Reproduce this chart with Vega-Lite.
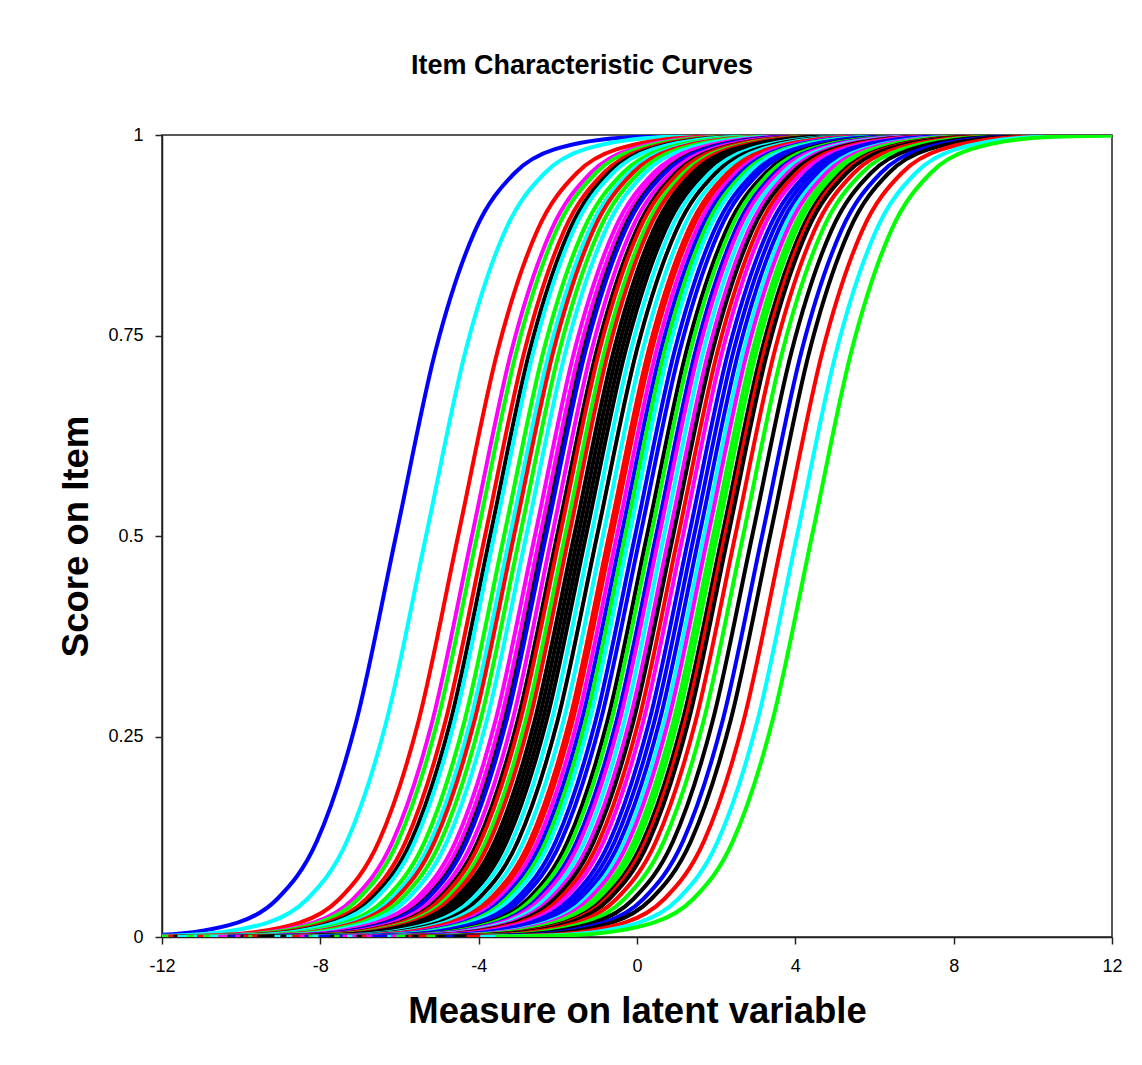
{
"$schema":"https://vega.github.io/schema/vega-lite/v6.json",
"autosize":"none",
"width":950,"height":802,
"padding":{"left":162,"top":135,"right":30,"bottom":128},
"background":"white",
"title":{"text":"Item Characteristic Curves","fontSize":27,"fontWeight":"bold","font":"Liberation Sans","color":"black","anchor":"middle","frame":"group","dx":-55,"baseline":"alphabetic","offset":25},
"config":{"view":{"stroke":"#222","strokeWidth":1.5}},
"data":{"values":[
{"c":1,"x":-14.09,"y":0.0003},{"c":1,"x":-12.09,"y":0.0025},{"c":1,"x":-10.09,"y":0.018},{"c":1,"x":-9.09,"y":0.0474},{"c":1,"x":-8.09,"y":0.1192},{"c":1,"x":-7.09,"y":0.2689},{"c":1,"x":-6.09,"y":0.5},{"c":1,"x":-5.09,"y":0.7311},{"c":1,"x":-4.09,"y":0.8808},{"c":1,"x":-3.09,"y":0.9526},{"c":1,"x":-2.09,"y":0.982},{"c":1,"x":-0.09,"y":0.9975},{"c":1,"x":1.91,"y":0.9997},
{"c":2,"x":-13.33,"y":0.0003},{"c":2,"x":-11.33,"y":0.0025},{"c":2,"x":-9.33,"y":0.018},{"c":2,"x":-8.33,"y":0.0474},{"c":2,"x":-7.33,"y":0.1192},{"c":2,"x":-6.33,"y":0.2689},{"c":2,"x":-5.33,"y":0.5},{"c":2,"x":-4.33,"y":0.7311},{"c":2,"x":-3.33,"y":0.8808},{"c":2,"x":-2.33,"y":0.9526},{"c":2,"x":-1.33,"y":0.982},{"c":2,"x":0.67,"y":0.9975},{"c":2,"x":2.67,"y":0.9997},
{"c":3,"x":-12.52,"y":0.0003},{"c":3,"x":-10.52,"y":0.0025},{"c":3,"x":-8.52,"y":0.018},{"c":3,"x":-7.52,"y":0.0474},{"c":3,"x":-6.52,"y":0.1192},{"c":3,"x":-5.52,"y":0.2689},{"c":3,"x":-4.52,"y":0.5},{"c":3,"x":-3.52,"y":0.7311},{"c":3,"x":-2.52,"y":0.8808},{"c":3,"x":-1.52,"y":0.9526},{"c":3,"x":-0.52,"y":0.982},{"c":3,"x":1.48,"y":0.9975},{"c":3,"x":3.48,"y":0.9997},
{"c":4,"x":-12.17,"y":0.0003},{"c":4,"x":-10.17,"y":0.0025},{"c":4,"x":-8.17,"y":0.018},{"c":4,"x":-7.17,"y":0.0474},{"c":4,"x":-6.17,"y":0.1192},{"c":4,"x":-5.17,"y":0.2689},{"c":4,"x":-4.17,"y":0.5},{"c":4,"x":-3.17,"y":0.7311},{"c":4,"x":-2.17,"y":0.8808},{"c":4,"x":-1.17,"y":0.9526},{"c":4,"x":-0.17,"y":0.982},{"c":4,"x":1.83,"y":0.9975},{"c":4,"x":3.83,"y":0.9997},
{"c":5,"x":-12.04,"y":0.0003},{"c":5,"x":-10.04,"y":0.0025},{"c":5,"x":-8.04,"y":0.018},{"c":5,"x":-7.04,"y":0.0474},{"c":5,"x":-6.04,"y":0.1192},{"c":5,"x":-5.04,"y":0.2689},{"c":5,"x":-4.04,"y":0.5},{"c":5,"x":-3.04,"y":0.7311},{"c":5,"x":-2.04,"y":0.8808},{"c":5,"x":-1.04,"y":0.9526},{"c":5,"x":-0.04,"y":0.982},{"c":5,"x":1.96,"y":0.9975},{"c":5,"x":3.96,"y":0.9997},
{"c":6,"x":-11.84,"y":0.0003},{"c":6,"x":-9.84,"y":0.0025},{"c":6,"x":-7.84,"y":0.018},{"c":6,"x":-6.84,"y":0.0474},{"c":6,"x":-5.84,"y":0.1192},{"c":6,"x":-4.84,"y":0.2689},{"c":6,"x":-3.84,"y":0.5},{"c":6,"x":-2.84,"y":0.7311},{"c":6,"x":-1.84,"y":0.8808},{"c":6,"x":-0.84,"y":0.9526},{"c":6,"x":0.16,"y":0.982},{"c":6,"x":2.16,"y":0.9975},{"c":6,"x":4.16,"y":0.9997},
{"c":7,"x":-11.71,"y":0.0003},{"c":7,"x":-9.71,"y":0.0025},{"c":7,"x":-7.71,"y":0.018},{"c":7,"x":-6.71,"y":0.0474},{"c":7,"x":-5.71,"y":0.1192},{"c":7,"x":-4.71,"y":0.2689},{"c":7,"x":-3.71,"y":0.5},{"c":7,"x":-2.71,"y":0.7311},{"c":7,"x":-1.71,"y":0.8808},{"c":7,"x":-0.71,"y":0.9526},{"c":7,"x":0.29,"y":0.982},{"c":7,"x":2.29,"y":0.9975},{"c":7,"x":4.29,"y":0.9997},
{"c":8,"x":-11.61,"y":0.0003},{"c":8,"x":-9.61,"y":0.0025},{"c":8,"x":-7.61,"y":0.018},{"c":8,"x":-6.61,"y":0.0474},{"c":8,"x":-5.61,"y":0.1192},{"c":8,"x":-4.61,"y":0.2689},{"c":8,"x":-3.61,"y":0.5},{"c":8,"x":-2.61,"y":0.7311},{"c":8,"x":-1.61,"y":0.8808},{"c":8,"x":-0.61,"y":0.9526},{"c":8,"x":0.39,"y":0.982},{"c":8,"x":2.39,"y":0.9975},{"c":8,"x":4.39,"y":0.9997},
{"c":9,"x":-11.36,"y":0.0003},{"c":9,"x":-9.36,"y":0.0025},{"c":9,"x":-7.36,"y":0.018},{"c":9,"x":-6.36,"y":0.0474},{"c":9,"x":-5.36,"y":0.1192},{"c":9,"x":-4.36,"y":0.2689},{"c":9,"x":-3.36,"y":0.5},{"c":9,"x":-2.36,"y":0.7311},{"c":9,"x":-1.36,"y":0.8808},{"c":9,"x":-0.36,"y":0.9526},{"c":9,"x":0.64,"y":0.982},{"c":9,"x":2.64,"y":0.9975},{"c":9,"x":4.64,"y":0.9997},
{"c":10,"x":-11.21,"y":0.0003},{"c":10,"x":-9.21,"y":0.0025},{"c":10,"x":-7.21,"y":0.018},{"c":10,"x":-6.21,"y":0.0474},{"c":10,"x":-5.21,"y":0.1192},{"c":10,"x":-4.21,"y":0.2689},{"c":10,"x":-3.21,"y":0.5},{"c":10,"x":-2.21,"y":0.7311},{"c":10,"x":-1.21,"y":0.8808},{"c":10,"x":-0.21,"y":0.9526},{"c":10,"x":0.79,"y":0.982},{"c":10,"x":2.79,"y":0.9975},{"c":10,"x":4.79,"y":0.9997},
{"c":11,"x":-11.11,"y":0.0003},{"c":11,"x":-9.11,"y":0.0025},{"c":11,"x":-7.11,"y":0.018},{"c":11,"x":-6.11,"y":0.0474},{"c":11,"x":-5.11,"y":0.1192},{"c":11,"x":-4.11,"y":0.2689},{"c":11,"x":-3.11,"y":0.5},{"c":11,"x":-2.11,"y":0.7311},{"c":11,"x":-1.11,"y":0.8808},{"c":11,"x":-0.11,"y":0.9526},{"c":11,"x":0.89,"y":0.982},{"c":11,"x":2.89,"y":0.9975},{"c":11,"x":4.89,"y":0.9997},
{"c":12,"x":-10.96,"y":0.0003},{"c":12,"x":-8.96,"y":0.0025},{"c":12,"x":-6.96,"y":0.018},{"c":12,"x":-5.96,"y":0.0474},{"c":12,"x":-4.96,"y":0.1192},{"c":12,"x":-3.96,"y":0.2689},{"c":12,"x":-2.96,"y":0.5},{"c":12,"x":-1.96,"y":0.7311},{"c":12,"x":-0.96,"y":0.8808},{"c":12,"x":0.04,"y":0.9526},{"c":12,"x":1.04,"y":0.982},{"c":12,"x":3.04,"y":0.9975},{"c":12,"x":5.04,"y":0.9997},
{"c":13,"x":-10.8,"y":0.0003},{"c":13,"x":-8.8,"y":0.0025},{"c":13,"x":-6.8,"y":0.018},{"c":13,"x":-5.8,"y":0.0474},{"c":13,"x":-4.8,"y":0.1192},{"c":13,"x":-3.8,"y":0.2689},{"c":13,"x":-2.8,"y":0.5},{"c":13,"x":-1.8,"y":0.7311},{"c":13,"x":-0.8,"y":0.8808},{"c":13,"x":0.2,"y":0.9526},{"c":13,"x":1.2,"y":0.982},{"c":13,"x":3.2,"y":0.9975},{"c":13,"x":5.2,"y":0.9997},
{"c":14,"x":-10.58,"y":0.0003},{"c":14,"x":-8.58,"y":0.0025},{"c":14,"x":-6.58,"y":0.018},{"c":14,"x":-5.58,"y":0.0474},{"c":14,"x":-4.58,"y":0.1192},{"c":14,"x":-3.58,"y":0.2689},{"c":14,"x":-2.58,"y":0.5},{"c":14,"x":-1.58,"y":0.7311},{"c":14,"x":-0.58,"y":0.8808},{"c":14,"x":0.42,"y":0.9526},{"c":14,"x":1.42,"y":0.982},{"c":14,"x":3.42,"y":0.9975},{"c":14,"x":5.42,"y":0.9997},
{"c":15,"x":-10.45,"y":0.0003},{"c":15,"x":-8.45,"y":0.0025},{"c":15,"x":-6.45,"y":0.018},{"c":15,"x":-5.45,"y":0.0474},{"c":15,"x":-4.45,"y":0.1192},{"c":15,"x":-3.45,"y":0.2689},{"c":15,"x":-2.45,"y":0.5},{"c":15,"x":-1.45,"y":0.7311},{"c":15,"x":-0.45,"y":0.8808},{"c":15,"x":0.55,"y":0.9526},{"c":15,"x":1.55,"y":0.982},{"c":15,"x":3.55,"y":0.9975},{"c":15,"x":5.55,"y":0.9997},
{"c":16,"x":-10.35,"y":0.0003},{"c":16,"x":-8.35,"y":0.0025},{"c":16,"x":-6.35,"y":0.018},{"c":16,"x":-5.35,"y":0.0474},{"c":16,"x":-4.35,"y":0.1192},{"c":16,"x":-3.35,"y":0.2689},{"c":16,"x":-2.35,"y":0.5},{"c":16,"x":-1.35,"y":0.7311},{"c":16,"x":-0.35,"y":0.8808},{"c":16,"x":0.65,"y":0.9526},{"c":16,"x":1.65,"y":0.982},{"c":16,"x":3.65,"y":0.9975},{"c":16,"x":5.65,"y":0.9997},
{"c":17,"x":-10.3,"y":0.0003},{"c":17,"x":-8.3,"y":0.0025},{"c":17,"x":-6.3,"y":0.018},{"c":17,"x":-5.3,"y":0.0474},{"c":17,"x":-4.3,"y":0.1192},{"c":17,"x":-3.3,"y":0.2689},{"c":17,"x":-2.3,"y":0.5},{"c":17,"x":-1.3,"y":0.7311},{"c":17,"x":-0.3,"y":0.8808},{"c":17,"x":0.7,"y":0.9526},{"c":17,"x":1.7,"y":0.982},{"c":17,"x":3.7,"y":0.9975},{"c":17,"x":5.7,"y":0.9997},
{"c":18,"x":-10.15,"y":0.0003},{"c":18,"x":-8.15,"y":0.0025},{"c":18,"x":-6.15,"y":0.018},{"c":18,"x":-5.15,"y":0.0474},{"c":18,"x":-4.15,"y":0.1192},{"c":18,"x":-3.15,"y":0.2689},{"c":18,"x":-2.15,"y":0.5},{"c":18,"x":-1.15,"y":0.7311},{"c":18,"x":-0.15,"y":0.8808},{"c":18,"x":0.85,"y":0.9526},{"c":18,"x":1.85,"y":0.982},{"c":18,"x":3.85,"y":0.9975},{"c":18,"x":5.85,"y":0.9997},
{"c":19,"x":-10.02,"y":0.0003},{"c":19,"x":-8.02,"y":0.0025},{"c":19,"x":-6.02,"y":0.018},{"c":19,"x":-5.02,"y":0.0474},{"c":19,"x":-4.02,"y":0.1192},{"c":19,"x":-3.02,"y":0.2689},{"c":19,"x":-2.02,"y":0.5},{"c":19,"x":-1.02,"y":0.7311},{"c":19,"x":-0.02,"y":0.8808},{"c":19,"x":0.98,"y":0.9526},{"c":19,"x":1.98,"y":0.982},{"c":19,"x":3.98,"y":0.9975},{"c":19,"x":5.98,"y":0.9997},
{"c":20,"x":-9.95,"y":0.0003},{"c":20,"x":-7.95,"y":0.0025},{"c":20,"x":-5.95,"y":0.018},{"c":20,"x":-4.95,"y":0.0474},{"c":20,"x":-3.95,"y":0.1192},{"c":20,"x":-2.95,"y":0.2689},{"c":20,"x":-1.95,"y":0.5},{"c":20,"x":-0.95,"y":0.7311},{"c":20,"x":0.05,"y":0.8808},{"c":20,"x":1.05,"y":0.9526},{"c":20,"x":2.05,"y":0.982},{"c":20,"x":4.05,"y":0.9975},{"c":20,"x":6.05,"y":0.9997},
{"c":21,"x":-9.82,"y":0.0003},{"c":21,"x":-7.82,"y":0.0025},{"c":21,"x":-5.82,"y":0.018},{"c":21,"x":-4.82,"y":0.0474},{"c":21,"x":-3.82,"y":0.1192},{"c":21,"x":-2.82,"y":0.2689},{"c":21,"x":-1.82,"y":0.5},{"c":21,"x":-0.82,"y":0.7311},{"c":21,"x":0.18,"y":0.8808},{"c":21,"x":1.18,"y":0.9526},{"c":21,"x":2.18,"y":0.982},{"c":21,"x":4.18,"y":0.9975},{"c":21,"x":6.18,"y":0.9997},
{"c":22,"x":-9.72,"y":0.0003},{"c":22,"x":-7.72,"y":0.0025},{"c":22,"x":-5.72,"y":0.018},{"c":22,"x":-4.72,"y":0.0474},{"c":22,"x":-3.72,"y":0.1192},{"c":22,"x":-2.72,"y":0.2689},{"c":22,"x":-1.72,"y":0.5},{"c":22,"x":-0.72,"y":0.7311},{"c":22,"x":0.28,"y":0.8808},{"c":22,"x":1.28,"y":0.9526},{"c":22,"x":2.28,"y":0.982},{"c":22,"x":4.28,"y":0.9975},{"c":22,"x":6.28,"y":0.9997},
{"c":23,"x":-9.59,"y":0.0003},{"c":23,"x":-7.59,"y":0.0025},{"c":23,"x":-5.59,"y":0.018},{"c":23,"x":-4.59,"y":0.0474},{"c":23,"x":-3.59,"y":0.1192},{"c":23,"x":-2.59,"y":0.2689},{"c":23,"x":-1.59,"y":0.5},{"c":23,"x":-0.59,"y":0.7311},{"c":23,"x":0.41,"y":0.8808},{"c":23,"x":1.41,"y":0.9526},{"c":23,"x":2.41,"y":0.982},{"c":23,"x":4.41,"y":0.9975},{"c":23,"x":6.41,"y":0.9997},
{"c":24,"x":-9.49,"y":0.0003},{"c":24,"x":-7.49,"y":0.0025},{"c":24,"x":-5.49,"y":0.018},{"c":24,"x":-4.49,"y":0.0474},{"c":24,"x":-3.49,"y":0.1192},{"c":24,"x":-2.49,"y":0.2689},{"c":24,"x":-1.49,"y":0.5},{"c":24,"x":-0.49,"y":0.7311},{"c":24,"x":0.51,"y":0.8808},{"c":24,"x":1.51,"y":0.9526},{"c":24,"x":2.51,"y":0.982},{"c":24,"x":4.51,"y":0.9975},{"c":24,"x":6.51,"y":0.9997},
{"c":25,"x":-9.39,"y":0.0003},{"c":25,"x":-7.39,"y":0.0025},{"c":25,"x":-5.39,"y":0.018},{"c":25,"x":-4.39,"y":0.0474},{"c":25,"x":-3.39,"y":0.1192},{"c":25,"x":-2.39,"y":0.2689},{"c":25,"x":-1.39,"y":0.5},{"c":25,"x":-0.39,"y":0.7311},{"c":25,"x":0.61,"y":0.8808},{"c":25,"x":1.61,"y":0.9526},{"c":25,"x":2.61,"y":0.982},{"c":25,"x":4.61,"y":0.9975},{"c":25,"x":6.61,"y":0.9997},
{"c":26,"x":-9.29,"y":0.0003},{"c":26,"x":-7.29,"y":0.0025},{"c":26,"x":-5.29,"y":0.018},{"c":26,"x":-4.29,"y":0.0474},{"c":26,"x":-3.29,"y":0.1192},{"c":26,"x":-2.29,"y":0.2689},{"c":26,"x":-1.29,"y":0.5},{"c":26,"x":-0.29,"y":0.7311},{"c":26,"x":0.71,"y":0.8808},{"c":26,"x":1.71,"y":0.9526},{"c":26,"x":2.71,"y":0.982},{"c":26,"x":4.71,"y":0.9975},{"c":26,"x":6.71,"y":0.9997},
{"c":27,"x":-9.16,"y":0.0003},{"c":27,"x":-7.16,"y":0.0025},{"c":27,"x":-5.16,"y":0.018},{"c":27,"x":-4.16,"y":0.0474},{"c":27,"x":-3.16,"y":0.1192},{"c":27,"x":-2.16,"y":0.2689},{"c":27,"x":-1.16,"y":0.5},{"c":27,"x":-0.16,"y":0.7311},{"c":27,"x":0.84,"y":0.8808},{"c":27,"x":1.84,"y":0.9526},{"c":27,"x":2.84,"y":0.982},{"c":27,"x":4.84,"y":0.9975},{"c":27,"x":6.84,"y":0.9997},
{"c":28,"x":-9.01,"y":0.0003},{"c":28,"x":-7.01,"y":0.0025},{"c":28,"x":-5.01,"y":0.018},{"c":28,"x":-4.01,"y":0.0474},{"c":28,"x":-3.01,"y":0.1192},{"c":28,"x":-2.01,"y":0.2689},{"c":28,"x":-1.01,"y":0.5},{"c":28,"x":-0.01,"y":0.7311},{"c":28,"x":0.99,"y":0.8808},{"c":28,"x":1.99,"y":0.9526},{"c":28,"x":2.99,"y":0.982},{"c":28,"x":4.99,"y":0.9975},{"c":28,"x":6.99,"y":0.9997},
{"c":29,"x":-8.86,"y":0.0003},{"c":29,"x":-6.86,"y":0.0025},{"c":29,"x":-4.86,"y":0.018},{"c":29,"x":-3.86,"y":0.0474},{"c":29,"x":-2.86,"y":0.1192},{"c":29,"x":-1.86,"y":0.2689},{"c":29,"x":-0.86,"y":0.5},{"c":29,"x":0.14,"y":0.7311},{"c":29,"x":1.14,"y":0.8808},{"c":29,"x":2.14,"y":0.9526},{"c":29,"x":3.14,"y":0.982},{"c":29,"x":5.14,"y":0.9975},{"c":29,"x":7.14,"y":0.9997},
{"c":30,"x":-8.71,"y":0.0003},{"c":30,"x":-6.71,"y":0.0025},{"c":30,"x":-4.71,"y":0.018},{"c":30,"x":-3.71,"y":0.0474},{"c":30,"x":-2.71,"y":0.1192},{"c":30,"x":-1.71,"y":0.2689},{"c":30,"x":-0.71,"y":0.5},{"c":30,"x":0.29,"y":0.7311},{"c":30,"x":1.29,"y":0.8808},{"c":30,"x":2.29,"y":0.9526},{"c":30,"x":3.29,"y":0.982},{"c":30,"x":5.29,"y":0.9975},{"c":30,"x":7.29,"y":0.9997},
{"c":31,"x":-8.63,"y":0.0003},{"c":31,"x":-6.63,"y":0.0025},{"c":31,"x":-4.63,"y":0.018},{"c":31,"x":-3.63,"y":0.0474},{"c":31,"x":-2.63,"y":0.1192},{"c":31,"x":-1.63,"y":0.2689},{"c":31,"x":-0.63,"y":0.5},{"c":31,"x":0.37,"y":0.7311},{"c":31,"x":1.37,"y":0.8808},{"c":31,"x":2.37,"y":0.9526},{"c":31,"x":3.37,"y":0.982},{"c":31,"x":5.37,"y":0.9975},{"c":31,"x":7.37,"y":0.9997},
{"c":32,"x":-8.51,"y":0.0003},{"c":32,"x":-6.51,"y":0.0025},{"c":32,"x":-4.51,"y":0.018},{"c":32,"x":-3.51,"y":0.0474},{"c":32,"x":-2.51,"y":0.1192},{"c":32,"x":-1.51,"y":0.2689},{"c":32,"x":-0.51,"y":0.5},{"c":32,"x":0.49,"y":0.7311},{"c":32,"x":1.49,"y":0.8808},{"c":32,"x":2.49,"y":0.9526},{"c":32,"x":3.49,"y":0.982},{"c":32,"x":5.49,"y":0.9975},{"c":32,"x":7.49,"y":0.9997},
{"c":33,"x":-8.4,"y":0.0003},{"c":33,"x":-6.4,"y":0.0025},{"c":33,"x":-4.4,"y":0.018},{"c":33,"x":-3.4,"y":0.0474},{"c":33,"x":-2.4,"y":0.1192},{"c":33,"x":-1.4,"y":0.2689},{"c":33,"x":-0.4,"y":0.5},{"c":33,"x":0.6,"y":0.7311},{"c":33,"x":1.6,"y":0.8808},{"c":33,"x":2.6,"y":0.9526},{"c":33,"x":3.6,"y":0.982},{"c":33,"x":5.6,"y":0.9975},{"c":33,"x":7.6,"y":0.9997},
{"c":34,"x":-8.3,"y":0.0003},{"c":34,"x":-6.3,"y":0.0025},{"c":34,"x":-4.3,"y":0.018},{"c":34,"x":-3.3,"y":0.0474},{"c":34,"x":-2.3,"y":0.1192},{"c":34,"x":-1.3,"y":0.2689},{"c":34,"x":-0.3,"y":0.5},{"c":34,"x":0.7,"y":0.7311},{"c":34,"x":1.7,"y":0.8808},{"c":34,"x":2.7,"y":0.9526},{"c":34,"x":3.7,"y":0.982},{"c":34,"x":5.7,"y":0.9975},{"c":34,"x":7.7,"y":0.9997},
{"c":35,"x":-8.2,"y":0.0003},{"c":35,"x":-6.2,"y":0.0025},{"c":35,"x":-4.2,"y":0.018},{"c":35,"x":-3.2,"y":0.0474},{"c":35,"x":-2.2,"y":0.1192},{"c":35,"x":-1.2,"y":0.2689},{"c":35,"x":-0.2,"y":0.5},{"c":35,"x":0.8,"y":0.7311},{"c":35,"x":1.8,"y":0.8808},{"c":35,"x":2.8,"y":0.9526},{"c":35,"x":3.8,"y":0.982},{"c":35,"x":5.8,"y":0.9975},{"c":35,"x":7.8,"y":0.9997},
{"c":36,"x":-8.05,"y":0.0003},{"c":36,"x":-6.05,"y":0.0025},{"c":36,"x":-4.05,"y":0.018},{"c":36,"x":-3.05,"y":0.0474},{"c":36,"x":-2.05,"y":0.1192},{"c":36,"x":-1.05,"y":0.2689},{"c":36,"x":-0.05,"y":0.5},{"c":36,"x":0.95,"y":0.7311},{"c":36,"x":1.95,"y":0.8808},{"c":36,"x":2.95,"y":0.9526},{"c":36,"x":3.95,"y":0.982},{"c":36,"x":5.95,"y":0.9975},{"c":36,"x":7.95,"y":0.9997},
{"c":37,"x":-7.92,"y":0.0003},{"c":37,"x":-5.92,"y":0.0025},{"c":37,"x":-3.92,"y":0.018},{"c":37,"x":-2.92,"y":0.0474},{"c":37,"x":-1.92,"y":0.1192},{"c":37,"x":-0.92,"y":0.2689},{"c":37,"x":0.08,"y":0.5},{"c":37,"x":1.08,"y":0.7311},{"c":37,"x":2.08,"y":0.8808},{"c":37,"x":3.08,"y":0.9526},{"c":37,"x":4.08,"y":0.982},{"c":37,"x":6.08,"y":0.9975},{"c":37,"x":8.08,"y":0.9997},
{"c":38,"x":-7.75,"y":0.0003},{"c":38,"x":-5.75,"y":0.0025},{"c":38,"x":-3.75,"y":0.018},{"c":38,"x":-2.75,"y":0.0474},{"c":38,"x":-1.75,"y":0.1192},{"c":38,"x":-0.75,"y":0.2689},{"c":38,"x":0.25,"y":0.5},{"c":38,"x":1.25,"y":0.7311},{"c":38,"x":2.25,"y":0.8808},{"c":38,"x":3.25,"y":0.9526},{"c":38,"x":4.25,"y":0.982},{"c":38,"x":6.25,"y":0.9975},{"c":38,"x":8.25,"y":0.9997},
{"c":39,"x":-7.65,"y":0.0003},{"c":39,"x":-5.65,"y":0.0025},{"c":39,"x":-3.65,"y":0.018},{"c":39,"x":-2.65,"y":0.0474},{"c":39,"x":-1.65,"y":0.1192},{"c":39,"x":-0.65,"y":0.2689},{"c":39,"x":0.35,"y":0.5},{"c":39,"x":1.35,"y":0.7311},{"c":39,"x":2.35,"y":0.8808},{"c":39,"x":3.35,"y":0.9526},{"c":39,"x":4.35,"y":0.982},{"c":39,"x":6.35,"y":0.9975},{"c":39,"x":8.35,"y":0.9997},
{"c":40,"x":-7.52,"y":0.0003},{"c":40,"x":-5.52,"y":0.0025},{"c":40,"x":-3.52,"y":0.018},{"c":40,"x":-2.52,"y":0.0474},{"c":40,"x":-1.52,"y":0.1192},{"c":40,"x":-0.52,"y":0.2689},{"c":40,"x":0.48,"y":0.5},{"c":40,"x":1.48,"y":0.7311},{"c":40,"x":2.48,"y":0.8808},{"c":40,"x":3.48,"y":0.9526},{"c":40,"x":4.48,"y":0.982},{"c":40,"x":6.48,"y":0.9975},{"c":40,"x":8.48,"y":0.9997},
{"c":41,"x":-7.44,"y":0.0003},{"c":41,"x":-5.44,"y":0.0025},{"c":41,"x":-3.44,"y":0.018},{"c":41,"x":-2.44,"y":0.0474},{"c":41,"x":-1.44,"y":0.1192},{"c":41,"x":-0.44,"y":0.2689},{"c":41,"x":0.56,"y":0.5},{"c":41,"x":1.56,"y":0.7311},{"c":41,"x":2.56,"y":0.8808},{"c":41,"x":3.56,"y":0.9526},{"c":41,"x":4.56,"y":0.982},{"c":41,"x":6.56,"y":0.9975},{"c":41,"x":8.56,"y":0.9997},
{"c":42,"x":-7.32,"y":0.0003},{"c":42,"x":-5.32,"y":0.0025},{"c":42,"x":-3.32,"y":0.018},{"c":42,"x":-2.32,"y":0.0474},{"c":42,"x":-1.32,"y":0.1192},{"c":42,"x":-0.32,"y":0.2689},{"c":42,"x":0.68,"y":0.5},{"c":42,"x":1.68,"y":0.7311},{"c":42,"x":2.68,"y":0.8808},{"c":42,"x":3.68,"y":0.9526},{"c":42,"x":4.68,"y":0.982},{"c":42,"x":6.68,"y":0.9975},{"c":42,"x":8.68,"y":0.9997},
{"c":43,"x":-7.19,"y":0.0003},{"c":43,"x":-5.19,"y":0.0025},{"c":43,"x":-3.19,"y":0.018},{"c":43,"x":-2.19,"y":0.0474},{"c":43,"x":-1.19,"y":0.1192},{"c":43,"x":-0.19,"y":0.2689},{"c":43,"x":0.81,"y":0.5},{"c":43,"x":1.81,"y":0.7311},{"c":43,"x":2.81,"y":0.8808},{"c":43,"x":3.81,"y":0.9526},{"c":43,"x":4.81,"y":0.982},{"c":43,"x":6.81,"y":0.9975},{"c":43,"x":8.81,"y":0.9997},
{"c":44,"x":-7.09,"y":0.0003},{"c":44,"x":-5.09,"y":0.0025},{"c":44,"x":-3.09,"y":0.018},{"c":44,"x":-2.09,"y":0.0474},{"c":44,"x":-1.09,"y":0.1192},{"c":44,"x":-0.09,"y":0.2689},{"c":44,"x":0.91,"y":0.5},{"c":44,"x":1.91,"y":0.7311},{"c":44,"x":2.91,"y":0.8808},{"c":44,"x":3.91,"y":0.9526},{"c":44,"x":4.91,"y":0.982},{"c":44,"x":6.91,"y":0.9975},{"c":44,"x":8.91,"y":0.9997},
{"c":45,"x":-6.96,"y":0.0003},{"c":45,"x":-4.96,"y":0.0025},{"c":45,"x":-2.96,"y":0.018},{"c":45,"x":-1.96,"y":0.0474},{"c":45,"x":-0.96,"y":0.1192},{"c":45,"x":0.04,"y":0.2689},{"c":45,"x":1.04,"y":0.5},{"c":45,"x":2.04,"y":0.7311},{"c":45,"x":3.04,"y":0.8808},{"c":45,"x":4.04,"y":0.9526},{"c":45,"x":5.04,"y":0.982},{"c":45,"x":7.04,"y":0.9975},{"c":45,"x":9.04,"y":0.9997},
{"c":46,"x":-6.84,"y":0.0003},{"c":46,"x":-4.84,"y":0.0025},{"c":46,"x":-2.84,"y":0.018},{"c":46,"x":-1.84,"y":0.0474},{"c":46,"x":-0.84,"y":0.1192},{"c":46,"x":0.16,"y":0.2689},{"c":46,"x":1.16,"y":0.5},{"c":46,"x":2.16,"y":0.7311},{"c":46,"x":3.16,"y":0.8808},{"c":46,"x":4.16,"y":0.9526},{"c":46,"x":5.16,"y":0.982},{"c":46,"x":7.16,"y":0.9975},{"c":46,"x":9.16,"y":0.9997},
{"c":47,"x":-6.69,"y":0.0003},{"c":47,"x":-4.69,"y":0.0025},{"c":47,"x":-2.69,"y":0.018},{"c":47,"x":-1.69,"y":0.0474},{"c":47,"x":-0.69,"y":0.1192},{"c":47,"x":0.31,"y":0.2689},{"c":47,"x":1.31,"y":0.5},{"c":47,"x":2.31,"y":0.7311},{"c":47,"x":3.31,"y":0.8808},{"c":47,"x":4.31,"y":0.9526},{"c":47,"x":5.31,"y":0.982},{"c":47,"x":7.31,"y":0.9975},{"c":47,"x":9.31,"y":0.9997},
{"c":48,"x":-6.56,"y":0.0003},{"c":48,"x":-4.56,"y":0.0025},{"c":48,"x":-2.56,"y":0.018},{"c":48,"x":-1.56,"y":0.0474},{"c":48,"x":-0.56,"y":0.1192},{"c":48,"x":0.44,"y":0.2689},{"c":48,"x":1.44,"y":0.5},{"c":48,"x":2.44,"y":0.7311},{"c":48,"x":3.44,"y":0.8808},{"c":48,"x":4.44,"y":0.9526},{"c":48,"x":5.44,"y":0.982},{"c":48,"x":7.44,"y":0.9975},{"c":48,"x":9.44,"y":0.9997},
{"c":49,"x":-6.43,"y":0.0003},{"c":49,"x":-4.43,"y":0.0025},{"c":49,"x":-2.43,"y":0.018},{"c":49,"x":-1.43,"y":0.0474},{"c":49,"x":-0.43,"y":0.1192},{"c":49,"x":0.57,"y":0.2689},{"c":49,"x":1.57,"y":0.5},{"c":49,"x":2.57,"y":0.7311},{"c":49,"x":3.57,"y":0.8808},{"c":49,"x":4.57,"y":0.9526},{"c":49,"x":5.57,"y":0.982},{"c":49,"x":7.57,"y":0.9975},{"c":49,"x":9.57,"y":0.9997},
{"c":50,"x":-6.31,"y":0.0003},{"c":50,"x":-4.31,"y":0.0025},{"c":50,"x":-2.31,"y":0.018},{"c":50,"x":-1.31,"y":0.0474},{"c":50,"x":-0.31,"y":0.1192},{"c":50,"x":0.69,"y":0.2689},{"c":50,"x":1.69,"y":0.5},{"c":50,"x":2.69,"y":0.7311},{"c":50,"x":3.69,"y":0.8808},{"c":50,"x":4.69,"y":0.9526},{"c":50,"x":5.69,"y":0.982},{"c":50,"x":7.69,"y":0.9975},{"c":50,"x":9.69,"y":0.9997},
{"c":51,"x":-6.21,"y":0.0003},{"c":51,"x":-4.21,"y":0.0025},{"c":51,"x":-2.21,"y":0.018},{"c":51,"x":-1.21,"y":0.0474},{"c":51,"x":-0.21,"y":0.1192},{"c":51,"x":0.79,"y":0.2689},{"c":51,"x":1.79,"y":0.5},{"c":51,"x":2.79,"y":0.7311},{"c":51,"x":3.79,"y":0.8808},{"c":51,"x":4.79,"y":0.9526},{"c":51,"x":5.79,"y":0.982},{"c":51,"x":7.79,"y":0.9975},{"c":51,"x":9.79,"y":0.9997},
{"c":52,"x":-6.08,"y":0.0003},{"c":52,"x":-4.08,"y":0.0025},{"c":52,"x":-2.08,"y":0.018},{"c":52,"x":-1.08,"y":0.0474},{"c":52,"x":-0.08,"y":0.1192},{"c":52,"x":0.92,"y":0.2689},{"c":52,"x":1.92,"y":0.5},{"c":52,"x":2.92,"y":0.7311},{"c":52,"x":3.92,"y":0.8808},{"c":52,"x":4.92,"y":0.9526},{"c":52,"x":5.92,"y":0.982},{"c":52,"x":7.92,"y":0.9975},{"c":52,"x":9.92,"y":0.9997},
{"c":53,"x":-5.98,"y":0.0003},{"c":53,"x":-3.98,"y":0.0025},{"c":53,"x":-1.98,"y":0.018},{"c":53,"x":-0.98,"y":0.0474},{"c":53,"x":0.02,"y":0.1192},{"c":53,"x":1.02,"y":0.2689},{"c":53,"x":2.02,"y":0.5},{"c":53,"x":3.02,"y":0.7311},{"c":53,"x":4.02,"y":0.8808},{"c":53,"x":5.02,"y":0.9526},{"c":53,"x":6.02,"y":0.982},{"c":53,"x":8.02,"y":0.9975},{"c":53,"x":10.02,"y":0.9997},
{"c":54,"x":-5.85,"y":0.0003},{"c":54,"x":-3.85,"y":0.0025},{"c":54,"x":-1.85,"y":0.018},{"c":54,"x":-0.85,"y":0.0474},{"c":54,"x":0.15,"y":0.1192},{"c":54,"x":1.15,"y":0.2689},{"c":54,"x":2.15,"y":0.5},{"c":54,"x":3.15,"y":0.7311},{"c":54,"x":4.15,"y":0.8808},{"c":54,"x":5.15,"y":0.9526},{"c":54,"x":6.15,"y":0.982},{"c":54,"x":8.15,"y":0.9975},{"c":54,"x":10.15,"y":0.9997},
{"c":55,"x":-5.78,"y":0.0003},{"c":55,"x":-3.78,"y":0.0025},{"c":55,"x":-1.78,"y":0.018},{"c":55,"x":-0.78,"y":0.0474},{"c":55,"x":0.22,"y":0.1192},{"c":55,"x":1.22,"y":0.2689},{"c":55,"x":2.22,"y":0.5},{"c":55,"x":3.22,"y":0.7311},{"c":55,"x":4.22,"y":0.8808},{"c":55,"x":5.22,"y":0.9526},{"c":55,"x":6.22,"y":0.982},{"c":55,"x":8.22,"y":0.9975},{"c":55,"x":10.22,"y":0.9997},
{"c":56,"x":-5.7,"y":0.0003},{"c":56,"x":-3.7,"y":0.0025},{"c":56,"x":-1.7,"y":0.018},{"c":56,"x":-0.7,"y":0.0474},{"c":56,"x":0.3,"y":0.1192},{"c":56,"x":1.3,"y":0.2689},{"c":56,"x":2.3,"y":0.5},{"c":56,"x":3.3,"y":0.7311},{"c":56,"x":4.3,"y":0.8808},{"c":56,"x":5.3,"y":0.9526},{"c":56,"x":6.3,"y":0.982},{"c":56,"x":8.3,"y":0.9975},{"c":56,"x":10.3,"y":0.9997},
{"c":57,"x":-5.52,"y":0.0003},{"c":57,"x":-3.52,"y":0.0025},{"c":57,"x":-1.52,"y":0.018},{"c":57,"x":-0.52,"y":0.0474},{"c":57,"x":0.48,"y":0.1192},{"c":57,"x":1.48,"y":0.2689},{"c":57,"x":2.48,"y":0.5},{"c":57,"x":3.48,"y":0.7311},{"c":57,"x":4.48,"y":0.8808},{"c":57,"x":5.48,"y":0.9526},{"c":57,"x":6.48,"y":0.982},{"c":57,"x":8.48,"y":0.9975},{"c":57,"x":10.48,"y":0.9997},
{"c":58,"x":-5.32,"y":0.0003},{"c":58,"x":-3.32,"y":0.0025},{"c":58,"x":-1.32,"y":0.018},{"c":58,"x":-0.32,"y":0.0474},{"c":58,"x":0.68,"y":0.1192},{"c":58,"x":1.68,"y":0.2689},{"c":58,"x":2.68,"y":0.5},{"c":58,"x":3.68,"y":0.7311},{"c":58,"x":4.68,"y":0.8808},{"c":58,"x":5.68,"y":0.9526},{"c":58,"x":6.68,"y":0.982},{"c":58,"x":8.68,"y":0.9975},{"c":58,"x":10.68,"y":0.9997},
{"c":59,"x":-5.09,"y":0.0003},{"c":59,"x":-3.09,"y":0.0025},{"c":59,"x":-1.09,"y":0.018},{"c":59,"x":-0.09,"y":0.0474},{"c":59,"x":0.91,"y":0.1192},{"c":59,"x":1.91,"y":0.2689},{"c":59,"x":2.91,"y":0.5},{"c":59,"x":3.91,"y":0.7311},{"c":59,"x":4.91,"y":0.8808},{"c":59,"x":5.91,"y":0.9526},{"c":59,"x":6.91,"y":0.982},{"c":59,"x":8.91,"y":0.9975},{"c":59,"x":10.91,"y":0.9997},
{"c":60,"x":-4.84,"y":0.0003},{"c":60,"x":-2.84,"y":0.0025},{"c":60,"x":-0.84,"y":0.018},{"c":60,"x":0.16,"y":0.0474},{"c":60,"x":1.16,"y":0.1192},{"c":60,"x":2.16,"y":0.2689},{"c":60,"x":3.16,"y":0.5},{"c":60,"x":4.16,"y":0.7311},{"c":60,"x":5.16,"y":0.8808},{"c":60,"x":6.16,"y":0.9526},{"c":60,"x":7.16,"y":0.982},{"c":60,"x":9.16,"y":0.9975},{"c":60,"x":11.16,"y":0.9997},
{"c":61,"x":-4.64,"y":0.0003},{"c":61,"x":-2.64,"y":0.0025},{"c":61,"x":-0.64,"y":0.018},{"c":61,"x":0.36,"y":0.0474},{"c":61,"x":1.36,"y":0.1192},{"c":61,"x":2.36,"y":0.2689},{"c":61,"x":3.36,"y":0.5},{"c":61,"x":4.36,"y":0.7311},{"c":61,"x":5.36,"y":0.8808},{"c":61,"x":6.36,"y":0.9526},{"c":61,"x":7.36,"y":0.982},{"c":61,"x":9.36,"y":0.9975},{"c":61,"x":11.36,"y":0.9997},
{"c":62,"x":-4.31,"y":0.0003},{"c":62,"x":-2.31,"y":0.0025},{"c":62,"x":-0.31,"y":0.018},{"c":62,"x":0.69,"y":0.0474},{"c":62,"x":1.69,"y":0.1192},{"c":62,"x":2.69,"y":0.2689},{"c":62,"x":3.69,"y":0.5},{"c":62,"x":4.69,"y":0.7311},{"c":62,"x":5.69,"y":0.8808},{"c":62,"x":6.69,"y":0.9526},{"c":62,"x":7.69,"y":0.982},{"c":62,"x":9.69,"y":0.9975},{"c":62,"x":11.69,"y":0.9997},
{"c":63,"x":-3.96,"y":0.0003},{"c":63,"x":-1.96,"y":0.0025},{"c":63,"x":0.04,"y":0.018},{"c":63,"x":1.04,"y":0.0474},{"c":63,"x":2.04,"y":0.1192},{"c":63,"x":3.04,"y":0.2689},{"c":63,"x":4.04,"y":0.5},{"c":63,"x":5.04,"y":0.7311},{"c":63,"x":6.04,"y":0.8808},{"c":63,"x":7.04,"y":0.9526},{"c":63,"x":8.04,"y":0.982},{"c":63,"x":10.04,"y":0.9975},{"c":63,"x":12.04,"y":0.9997},
{"c":64,"x":-3.58,"y":0.0003},{"c":64,"x":-1.58,"y":0.0025},{"c":64,"x":0.42,"y":0.018},{"c":64,"x":1.42,"y":0.0474},{"c":64,"x":2.42,"y":0.1192},{"c":64,"x":3.42,"y":0.2689},{"c":64,"x":4.42,"y":0.5},{"c":64,"x":5.42,"y":0.7311},{"c":64,"x":6.42,"y":0.8808},{"c":64,"x":7.42,"y":0.9526},{"c":64,"x":8.42,"y":0.982},{"c":64,"x":10.42,"y":0.9975},{"c":64,"x":12.42,"y":0.9997}
]},
"mark":{"type":"line","interpolate":"monotone","strokeWidth":4,"clip":true},
"encoding":{
"x":{"field":"x","type":"quantitative","scale":{"domain":[-12,12],"nice":false,"zero":false},
"axis":{"values":[-12,-8,-4,0,4,8,12],"grid":false,"title":"Measure on latent variable","titleFont":"Liberation Sans","titleFontSize":36.5,"titleFontWeight":"bold","titleColor":"black","titlePadding":18,"labelFont":"Liberation Sans","labelFontSize":18,"labelColor":"black","labelPadding":13,"labelFlush":false,"labelOverlap":false,"labelExpr":"datum.value < 0 ? '-' + abs(datum.value) : '' + datum.value","tickSize":7,"tickWidth":1.5,"tickColor":"#222","domainColor":"#222","domainWidth":1.5}},
"y":{"field":"y","type":"quantitative","scale":{"domain":[0,1],"nice":false},
"axis":{"values":[0,0.25,0.5,0.75,1],"labelExpr":"'' + datum.value","grid":false,"title":"Score on Item","titleFont":"Liberation Sans","titleFontSize":36.5,"titleFontWeight":"bold","titleColor":"black","titlePadding":12,"labelFont":"Liberation Sans","labelFontSize":18,"labelColor":"black","labelPadding":12,"labelFlush":false,"labelOverlap":false,"tickSize":7,"tickWidth":1.5,"tickColor":"#222","domainColor":"#222","domainWidth":1.5}},
"color":{"field":"c","type":"nominal","legend":null,
"scale":{"domain":[1,2,3,4,5,6,7,8,9,10,11,12,13,14,15,16,17,18,19,20,21,22,23,24,25,26,27,28,29,30,31,32,33,34,35,36,37,38,39,40,41,42,43,44,45,46,47,48,49,50,51,52,53,54,55,56,57,58,59,60,61,62,63,64],
"range":["#0000ff","#00ffff","#ff0000","#ff00ff","#00ff00","#ff0000","#000000","#00ffff","#00ff00","#00ffff","#ff0000","#00ff00","#00ffff","#ff00ff","#ff00ff","#000000","#0000ff","#ff00ff","#000000","#ff0000","#00ff00","#ff0000","#000000","#000000","#000000","#000000","#00ffff","#000000","#00ffff","#ff0000","#ff0000","#ff00ff","#0000ff","#00ff00","#00ffff","#0000ff","#0000ff","#000000","#00ff00","#0000ff","#ff00ff","#00ffff","#ff00ff","#000000","#ff0000","#ff00ff","#0000ff","#0000ff","#0000ff","#00ffff","#ff00ff","#00ff00","#00ff00","#000000","#ff0000","#000000","#ff0000","#00ff00","#000000","#0000ff","#000000","#ff0000","#00ffff","#00ff00"]}}
}
}
